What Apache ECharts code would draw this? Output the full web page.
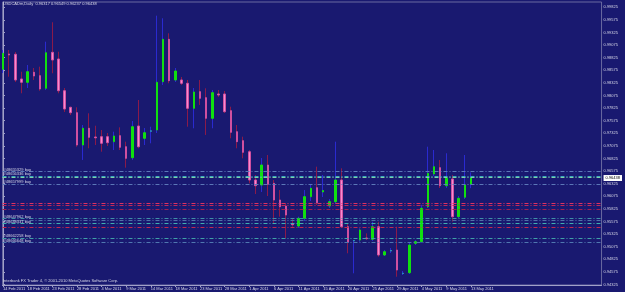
<!DOCTYPE html>
<html><head><meta charset="utf-8">
<script src="https://cdn.jsdelivr.net/npm/echarts@6/dist/echarts.min.js"></script>
<style>html,body{margin:0;padding:0;background:#191970;overflow:hidden}#c{width:625px;height:292px}</style>
</head><body><div id="c"></div>
<script>
const dates = ['14 Feb 2011','15 Feb 2011','16 Feb 2011','17 Feb 2011','18 Feb 2011','20 Feb 2011','21 Feb 2011','22 Feb 2011','23 Feb 2011','24 Feb 2011','25 Feb 2011','27 Feb 2011','28 Feb 2011',
'1 Mar 2011','2 Mar 2011','3 Mar 2011','4 Mar 2011','6 Mar 2011','7 Mar 2011','8 Mar 2011','9 Mar 2011','10 Mar 2011','11 Mar 2011','13 Mar 2011','14 Mar 2011','15 Mar 2011','16 Mar 2011','17 Mar 2011','18 Mar 2011','20 Mar 2011','21 Mar 2011','22 Mar 2011','23 Mar 2011','24 Mar 2011','25 Mar 2011','27 Mar 2011','28 Mar 2011','29 Mar 2011','30 Mar 2011','31 Mar 2011',
'1 Apr 2011','3 Apr 2011','4 Apr 2011','5 Apr 2011','6 Apr 2011','7 Apr 2011','8 Apr 2011','10 Apr 2011','11 Apr 2011','12 Apr 2011','13 Apr 2011','14 Apr 2011','15 Apr 2011','17 Apr 2011','18 Apr 2011','19 Apr 2011','20 Apr 2011','21 Apr 2011','22 Apr 2011','24 Apr 2011','25 Apr 2011','26 Apr 2011','27 Apr 2011','28 Apr 2011','29 Apr 2011',
'1 May 2011','2 May 2011','3 May 2011','4 May 2011','5 May 2011','6 May 2011','8 May 2011','9 May 2011','10 May 2011','11 May 2011','12 May 2011','13 May 2011'];

const opens = [0.98595,0.98899,0.98893,0.98403,0.98337,0.98536,0.98468,0.98218,0.98932,0.98799,
0.98170,0.97841,0.97734,0.97093,0.97425,0.97252,0.97258,0.97258,0.97159,0.97278,
0.97059,0.96841,0.97470,0.97226,0.97365,0.97391,0.98349,0.99190,0.98383,0.98383,
0.98317,0.97821,0.98151,0.98032,0.97623,0.98105,0.98105,0.97774,0.97357,0.97179,
0.96960,0.96399,0.96300,0.96696,0.96333,0.96002,0.95883,0.95526,0.95486,0.95639,
0.96068,0.96246,0.96161,0.95883,0.95968,0.96399,0.95472,0.95191,0.95208,0.95248,
0.95222,0.95472,0.94911,0.94990,0.95010,0.94544,0.94560,0.95143,0.95175,0.95869,
0.96518,0.96643,0.96286,0.96419,0.95671,0.96056,0.96317];
const highs = [0.98978,0.98978,0.98938,0.98547,0.98680,0.98621,0.98647,0.99143,0.99528,0.98944,
0.98224,0.97853,0.97841,0.97490,0.97722,0.97476,0.97391,0.97331,0.97357,0.97444,
0.97159,0.97569,0.97986,0.97430,0.97456,0.99659,0.99607,0.99309,0.98621,0.98442,
0.98383,0.98224,0.98383,0.98218,0.98184,0.98184,0.98165,0.97853,0.97490,0.97258,
0.96994,0.96498,0.96835,0.96895,0.96399,0.96200,0.95936,0.95645,0.95671,0.96200,
0.96300,0.96663,0.96498,0.96022,0.97159,0.96631,0.95540,0.95208,0.95440,0.95341,
0.95571,0.95571,0.95010,0.95050,0.95472,0.94594,0.95149,0.95208,0.95903,0.97060,
0.96994,0.96796,0.96929,0.96498,0.96081,0.96895,0.96549];
const lows = [0.98522,0.98448,0.98343,0.98119,0.98224,0.98383,0.98170,0.98184,0.98516,0.98119,
0.97748,0.97688,0.97059,0.96796,0.97028,0.97093,0.96960,0.97073,0.96994,0.96994,
0.96643,0.96796,0.97028,0.97093,0.97127,0.97331,0.98284,0.98317,0.98343,0.98284,
0.97456,0.97425,0.97887,0.97292,0.97425,0.98046,0.97728,0.97226,0.97028,0.96829,
0.96333,0.96121,0.96161,0.96081,0.95540,0.95671,0.95242,0.95472,0.95447,0.95585,
0.95982,0.95903,0.96062,0.95843,0.95923,0.95447,0.94945,0.94548,0.95175,0.95208,
0.95189,0.94877,0.94891,0.94950,0.94480,0.94514,0.94534,0.95109,0.95149,0.95843,
0.96478,0.96240,0.96240,0.95572,0.95645,0.96022,0.96237];
const closes = [0.98913,0.98879,0.98383,0.98337,0.98547,0.98462,0.98204,0.98924,0.98780,0.98170,
0.97807,0.97734,0.97093,0.97425,0.97246,0.97236,0.97127,0.97139,0.97272,0.97048,
0.96829,0.97456,0.97059,0.97337,0.97375,0.98337,0.99190,0.98369,0.98561,0.98317,
0.97821,0.98145,0.98020,0.97623,0.98131,0.98085,0.97754,0.97345,0.97159,0.96948,
0.96399,0.96286,0.96696,0.96313,0.96002,0.95869,0.95704,0.95512,0.95639,0.96068,
0.96234,0.95948,0.96191,0.95968,0.96399,0.95472,0.95163,0.95198,0.95407,0.95236,
0.95472,0.94911,0.94976,0.95000,0.94613,0.94550,0.95109,0.95175,0.95837,0.96532,
0.96663,0.96286,0.96433,0.95671,0.96036,0.96300,0.96438];

const priceTicks = [0.94325,0.94575,0.94825,0.95075,0.95325,0.95575,0.95825,0.96075,0.96325,0.96575,0.96825,0.97075,0.97325,0.97575,0.97825,0.98075,0.98325,0.98575,0.98825,0.99075,0.99325,0.99575,0.99825];
const dateTickIdx = [0,4,8,12,16,20,24,28,32,36,40,44,48,52,56,60,64,68,72,76];

const orderLevels = [0.96564,0.96478,0.96448,0.96319,0.95937,0.95889,0.95818,0.95635,0.95599,0.95536,0.95452,0.95248,0.95155];
const orderLabels = ['#48655329 buy','#48656336 buy','','#48657999 buy','','','','#48647962 buy','','#48648331 buy','','#48662258 buy','#48666648 buy'];
const orderColors = ['#5c78b8','#3aa8c0','#80d0a8','#5c78b8','#e03060','#c02858','#a02050','#4090a8','#5070a8','#40b0b0','#c02850','#40a0a8','#5078b0'];

const titleText = 'USDCADm,Daily  0.96317 0.96549 0.96237 0.96438';
const footerText = 'Interbank FX Trader 4, \u00A9 2001-2010 MetaQuotes Software Corp.';
const bidPrice = 0.96438;

const FONT = 'Liberation Sans, Arial, sans-serif';
const TXT = '#d8d8e8';
const BULL = '#10e010', BEAR = '#f78ad0', BEAR_EDGE = '#d050a0';
const WICK_UP = '#2a2ad0', WICK_DN = '#8a1a4a';
const DOJI_UP = '#2aa6b8', DOJI_DN = '#c0204a';

const wickData = opens.map((o, i) => [i, o, closes[i], lows[i], highs[i]]);
const bodyData = opens.map((o, i) => {
  const c = closes[i];
  const item = { value: [i, o, c, Math.min(o, c), Math.max(o, c)] };
  if (Math.abs(o - c) < 0.00012) {
    const col = c >= o ? DOJI_UP : DOJI_DN;
    item.itemStyle = { color: col, color0: col, borderColor: col, borderColor0: col };
  }
  return item;
});

const markData = orderLevels.map((v, i) => ({
  yAxis: v,
  lineStyle: { color: orderColors[i], type: [4, 2, 1, 2], width: 1 },
  label: orderLabels[i] ? {
    show: true, formatter: orderLabels[i], position: 'insideStartTop', distance: [1, 0],
    color: TXT, fontSize: 4, fontFamily: FONT
  } : { show: false }
}));

const yLabelValues = priceTicks.concat([bidPrice]);

const chart = echarts.init(document.getElementById('c'));
chart.setOption({
  animation: false,
  backgroundColor: '#191970',
  title: [
    { text: titleText, left: 3, top: 2, padding: 0, textStyle: { color: TXT, fontSize: 4, fontWeight: 'normal', fontFamily: FONT } },
    { text: footerText, left: 3, top: 279, padding: 0, textStyle: { color: TXT, fontSize: 4, fontWeight: 'normal', fontFamily: FONT } }
  ],
  grid: { left: 1, right: 14, top: 2, bottom: 7, show: true, borderColor: '#6a6aa0', borderWidth: 1, backgroundColor: 'transparent' },
  xAxis: {
    type: 'value', min: -0.08, max: 97.21,
    axisLine: { show: true, lineStyle: { color: '#a0a0c8', width: 1 } },
    axisTick: { show: true, length: 2, customValues: dateTickIdx, lineStyle: { color: '#a0a0c8' } },
    axisLabel: { customValues: dateTickIdx, formatter: v => dates[Math.round(v)] || '', align: 'left',
      color: TXT, fontSize: 4, fontFamily: FONT, margin: 2 },
    splitLine: { show: false }
  },
  yAxis: {
    type: 'value', position: 'right', min: 0.94316, max: 0.99930,
    axisLine: { show: true, lineStyle: { color: '#a0a0c8', width: 1 } },
    axisTick: { show: true, length: 2, inside: false, customValues: priceTicks, lineStyle: { color: '#a0a0c8' } },
    axisLabel: {
      customValues: yLabelValues, hideOverlap: false,
      formatter: v => Math.abs(v - bidPrice) < 1e-7 ? '{bid|' + v.toFixed(5) + '}' : v.toFixed(5),
      color: TXT, fontSize: 4, fontFamily: FONT, margin: 2,
      rich: { bid: { backgroundColor: '#ffffff', color: '#000000', fontSize: 4, fontFamily: FONT, padding: [1, 2] } }
    },
    splitLine: { show: false }
  },
  series: [
    {
      type: 'candlestick', name: 'wick', data: wickData, barWidth: 1, silent: true,
      itemStyle: { color: WICK_UP, color0: WICK_DN, borderColor: WICK_UP, borderColor0: WICK_DN, borderWidth: 1 }
    },
    {
      type: 'candlestick', name: 'body', data: bodyData, barWidth: 2, silent: true,
      itemStyle: { color: BULL, color0: BEAR, borderColor: BULL, borderColor0: BEAR_EDGE, borderWidth: 1 }
    },
    {
      type: 'line', name: 'orders', data: [], silent: true, symbol: 'none',
      markLine: { silent: true, symbol: 'none', animation: false, precision: 5, data: markData }
    }
  ]
});
</script>
</body></html>
